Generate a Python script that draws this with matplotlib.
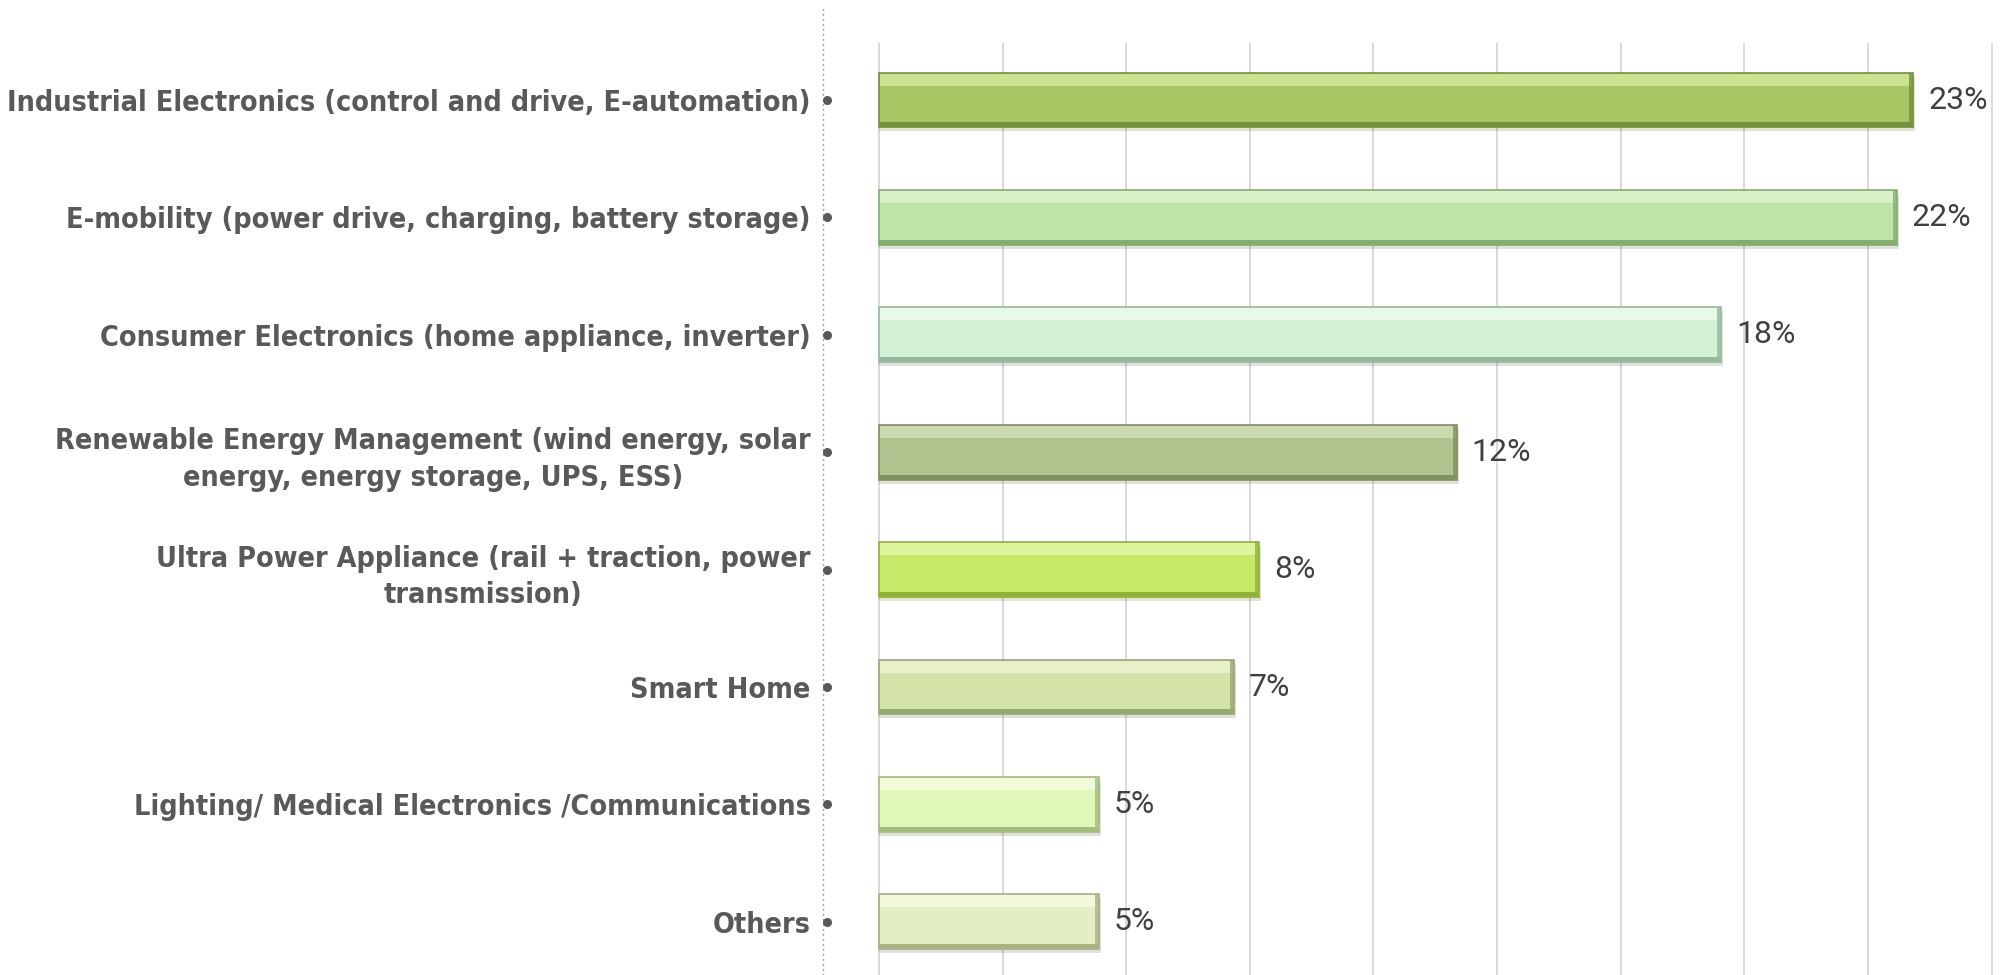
import matplotlib.pyplot as plt
from matplotlib.ticker import FixedLocator, NullFormatter

# data (top to bottom)
categories = [
    "Industrial Electronics (control and drive, E-automation)",
    "E-mobility (power drive, charging, battery storage)",
    "Consumer Electronics (home appliance, inverter)",
    "Renewable Energy Management (wind energy, solar\nenergy, energy storage, UPS, ESS)",
    "Ultra Power Appliance (rail + traction, power\ntransmission)",
    "Smart Home",
    "Lighting/ Medical Electronics /Communications",
    "Others",
]
values = [22.98, 22.62, 18.71, 12.84, 8.44, 7.89, 4.89, 4.89]
value_labels = ["23%", "22%", "18%", "12%", "8%", "7%", "5%", "5%"]

fill_colors = ["#A8C664", "#BFE4A8", "#D3F2D6", "#B1C48F", "#C6E967", "#D4E4A9", "#E0F9B9", "#E4EEC5"]
edge_colors = ["#75913A", "#86AD70", "#97B99A", "#7F9160", "#8FB23A", "#98A873", "#A3BC7F", "#A7B184"]
light_colors = ["#D3E89A", "#DDF3CC", "#ECFBEE", "#D2DFB7", "#E3F7A6", "#EAF3CF", "#F3FDDF", "#F6FAE2"]

plt.rcParams['font.family'] = ['Roboto', 'DejaVu Sans']

fig = plt.figure(figsize=(20.11, 9.75), dpi=100)
ax = fig.add_axes([823 / 2011, 0, 1 - 823 / 2011, 1 - 43 / 975])

px_x = 1 / 45.0      # data units per horizontal pixel
px_y = 1 / 117.4     # data units per vertical pixel
y = list(range(len(categories)))
h = 0.468

# shadow
ax.barh([i + 4 * px_y for i in y], [v + 2 * px_x for v in values], height=h, left=0,
        color="#000000", alpha=0.12, zorder=2, linewidth=0)
# main bars
ax.barh(y, values, height=h, color=fill_colors, edgecolor=edge_colors, linewidth=1.2, zorder=3)
# top highlight
ax.barh([i - h / 2 + 7 * px_y for i in y], [v - 2 * px_x for v in values], height=12 * px_y,
        left=1 * px_x, color=light_colors, linewidth=0, zorder=4, alpha=0.85)
# bottom dark edge
ax.barh([i + h / 2 - 2.5 * px_y for i in y], values, height=5 * px_y,
        color=edge_colors, linewidth=0, zorder=4)
# right dark edge
ax.barh(y, [4 * px_x] * len(values), left=[v - 4 * px_x for v in values], height=h,
        color=edge_colors, linewidth=0, zorder=4, alpha=0.8)

for i, (v, lab) in enumerate(zip(values, value_labels)):
    ax.text(v + 15 * px_x, i, lab, ha='left', va='center', fontsize=23,
            color="#404040", family=['Roboto', 'DejaVu Sans'])

ax.set_xlim(-56 * px_x, (2011 - 879) * px_x)
ax.set_ylim((975 - 100) * px_y, -57 * px_y)

ax.xaxis.set_major_locator(FixedLocator([2.747 * k for k in range(10)]))
ax.xaxis.set_major_formatter(NullFormatter())
ax.grid(axis='x', color="#D9D9D9", linewidth=1.4, zorder=0)
ax.set_axisbelow(True)
ax.tick_params(axis='x', length=0)

ax.set_yticks(y)
ax.set_yticklabels(categories, fontsize=20.6, fontweight='bold', color="#595959",
                   family=['DejaVu Sans Condensed', 'DejaVu Sans'], fontstretch='condensed')
for t in ax.get_yticklabels():
    t.set_multialignment('center')
    t.set_linespacing(1.4)
ax.tick_params(axis='y', length=0, pad=9)

for s in ax.spines.values():
    s.set_visible(False)

# dotted category axis line and tick dots
ax.axvline(-56 * px_x, ymin=0, ymax=(975 - 8) / (975 - 43), color="#595959",
           linewidth=1.0, linestyle=(0, (0.8, 2.8)), clip_on=False, zorder=5)
ax.plot([-52 * px_x] * len(y), y, 'o', color="#595959", markersize=5.5,
        clip_on=False, zorder=6)

fig.savefig("out.png", dpi=100)
